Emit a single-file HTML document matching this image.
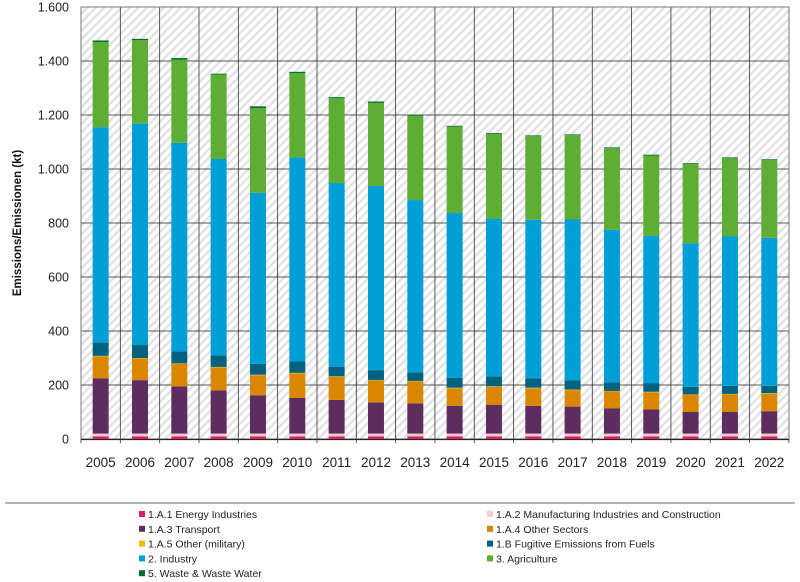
<!DOCTYPE html>
<html><head><meta charset="utf-8"><style>
body{margin:0;background:#fff;width:800px;height:577px;overflow:hidden;font-family:"Liberation Sans",sans-serif}
</style></head><body>
<svg id="s" width="800" height="577" xmlns="http://www.w3.org/2000/svg" font-family="Liberation Sans, sans-serif">
<defs><pattern id="h" width="6" height="6" patternUnits="userSpaceOnUse" patternTransform="rotate(-45)"><rect width="6" height="6" fill="#fff"/><rect width="6" height="2.4" fill="#e2e2e2"/></pattern></defs>
<rect x="81" y="7" width="708" height="432" fill="url(#h)"/>
<g id="g"></g>
</svg>
<script>
const d=[[225,308,357,1155,1470,1476],[218,300,348,1168,1477,1482],[195,280,325,1097,1405,1411],[180,267,310,1037,1350,1353],[162,238,278,912,1225,1232],[152,245,287,1043,1355,1360],[145,232,268,948,1262,1266],[135,218,255,937,1245,1250],[132,215,247,885,1197,1200],[123,190,227,837,1157,1160],[127,195,232,815,1130,1133],[123,190,225,812,1123,1125],[120,183,217,813,1125,1128],[113,178,210,775,1077,1080],[110,175,207,752,1050,1053],[100,165,193,725,1020,1022],[100,167,197,750,1040,1043],[103,170,197,745,1033,1036]];
const Y=v=>439-v*0.27, W=39.33, L=81;
let h='';
for(let v=200;v<1600;v+=200)h+=`<line x1="81" x2="789" y1="${Y(v)}" y2="${Y(v)}" stroke="#222" stroke-width="0.8"/>`;
for(let i=0;i<=18;i++)h+=`<line x1="${L+i*W}" x2="${L+i*W}" y1="7" y2="443" stroke="#333" stroke-width="0.8"/>`;
h+=`<rect x="81" y="7" width="708" height="432" fill="none" stroke="#777" stroke-width="1"/>`;
h+=`<line x1="81" x2="789" y1="439.5" y2="439.5" stroke="#222" stroke-width="1.2"/>`;
d.forEach((r,i)=>{const x=L+i*W+W/2-8;
 const segs=[[0,10,'#d6245f'],[10,20,'#f5c9d8'],[20,r[0],'#5e2d5f'],[r[0],r[1]-2,'#d98600'],[r[1]-2,r[1],'#f4b800'],[r[1],r[2],'#00627f'],[r[2],r[3],'#009fd8'],[r[3],r[4],'#5ead35'],[r[4],r[5],'#00702f']];
 segs.forEach(s=>{h+=`<rect x="${x}" y="${Y(s[1])}" width="16" height="${(s[1]-s[0])*0.27}" fill="${s[2]}"/>`});
 h+=`<text x="${L+i*W+W/2}" y="467" font-size="13.5" text-anchor="middle" fill="#222">${2005+i}</text>`;
});
['0','200','400','600','800','1.000','1.200','1.400','1.600'].forEach((t,i)=>h+=`<text x="69" y="${Y(i*200)+4.5}" font-size="12.5" text-anchor="end" fill="#222">${t}</text>`);
h+=`<text transform="translate(21,223) rotate(-90)" font-size="11.5" font-weight="bold" text-anchor="middle" fill="#111">Emissions/Emissionen (kt)</text>`;
h+=`<line x1="5" x2="795" y1="503" y2="503" stroke="#666" stroke-width="1"/>`;
const lg=[['1.A.1 Energy Industries','#d6245f'],['1.A.2 Manufacturing Industries and Construction','#f5c9d8'],['1.A.3 Transport','#5e2d5f'],['1.A.4 Other Sectors','#d98600'],['1.A.5 Other (military)','#f4b800'],['1.B Fugitive Emissions from Fuels','#00627f'],['2. Industry','#009fd8'],['3. Agriculture','#5ead35'],['5. Waste & Waste Water','#00702f']];
lg.forEach((l,i)=>{const x=i%2?487:139,y=518+Math.floor(i/2)*14.8;
 h+=`<rect x="${x}" y="${y-7}" width="6" height="6" fill="${l[1]}"/><text x="${x+9}" y="${y}" font-size="10.5" fill="#222">${l[0].replace('&','&amp;')}</text>`});
document.getElementById('g').innerHTML=h;
</script>
</body></html>
